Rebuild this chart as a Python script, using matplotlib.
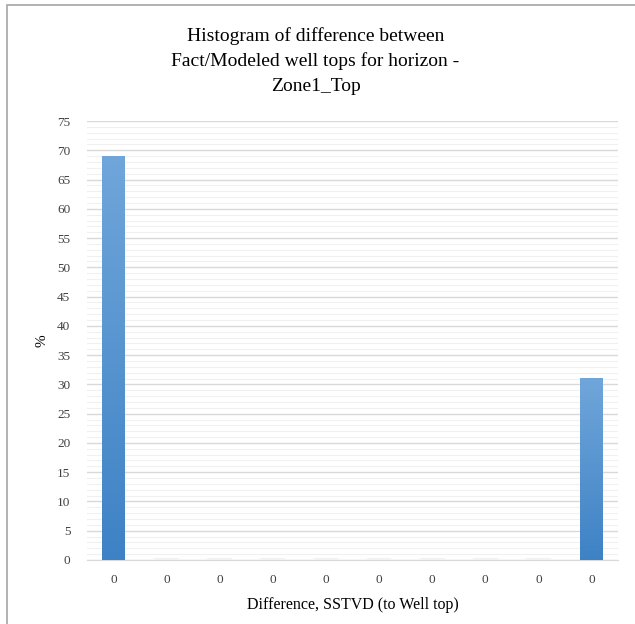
import numpy as np
import matplotlib.pyplot as plt
from matplotlib.patches import Rectangle
from matplotlib.colors import LinearSegmentedColormap

plt.rcParams['font.family'] = ['Liberation Serif', 'DejaVu Serif']

# Histogram data
bin_labels = ['0'] * 10
percent = [69, 0, 0, 0, 0, 0, 0, 0, 0, 31]
title_lines = ['Histogram of difference between',
               'Fact/Modeled well tops for horizon -',
               'Zone1_Top']

fig = plt.figure(figsize=(6.35, 6.24), dpi=100)
ax = fig.add_axes([87/635, 1 - 560/624, 531/635, 439/624])

# chart frame
fig.add_artist(Rectangle((7/635, -0.01), 1.0, 1 - 5/624 + 0.01,
                         transform=fig.transFigure, fill=False,
                         edgecolor='#a6a6a6', linewidth=1.2))

x = np.arange(len(percent))
width = 0.43
cmap = LinearSegmentedColormap.from_list('bar', ['#3e82c5', '#70a6da'])
grad = np.linspace(0, 1, 256).reshape(-1, 1)
for xi, v in zip(x, percent):
    if v > 0:
        ax.imshow(grad, cmap=cmap, origin='lower', aspect='auto',
                  extent=[xi - width/2, xi + width/2, 0, v], zorder=3)
    else:
        ax.plot([xi - width/2, xi + width/2], [0.15, 0.15],
                color='#f2f2f2', lw=1.5, zorder=3)

ax.set_xlim(-0.5, len(percent) - 0.5)
ax.set_ylim(0, 75)
ax.set_xticks(x)
ax.set_xticklabels(bin_labels, fontsize=9.5, color='#404040')
ax.set_yticks(np.arange(0, 76, 5))
ax.tick_params(axis='y', labelsize=9.5, labelcolor='#404040', length=0, pad=12)
ax.tick_params(axis='x', length=0, pad=10)

# major and minor grid
ax.set_yticks(np.arange(0, 76, 1), minor=True)
ax.tick_params(axis='y', which='minor', length=0)
ax.grid(axis='y', which='major', color='#d9d9d9', lw=1.0, zorder=0)
ax.grid(axis='y', which='minor', color='#f0f0f0', lw=0.8, zorder=0)
ax.set_axisbelow(True)
for s in ['top', 'right', 'left']:
    ax.spines[s].set_visible(False)
ax.spines['bottom'].set_color('#d9d9d9')

ax.set_xlabel('Difference, SSTVD (to Well top)', fontsize=11.5, labelpad=8)
ax.set_ylabel('%', fontsize=11, labelpad=6)

# title, one line at a time for even spacing
for i, line in enumerate(title_lines):
    fig.text(0.497, 1 - (41 + 25*i)/624, line,
             ha='center', va='baseline', fontsize=14)

fig.savefig('out.png', dpi=100)
